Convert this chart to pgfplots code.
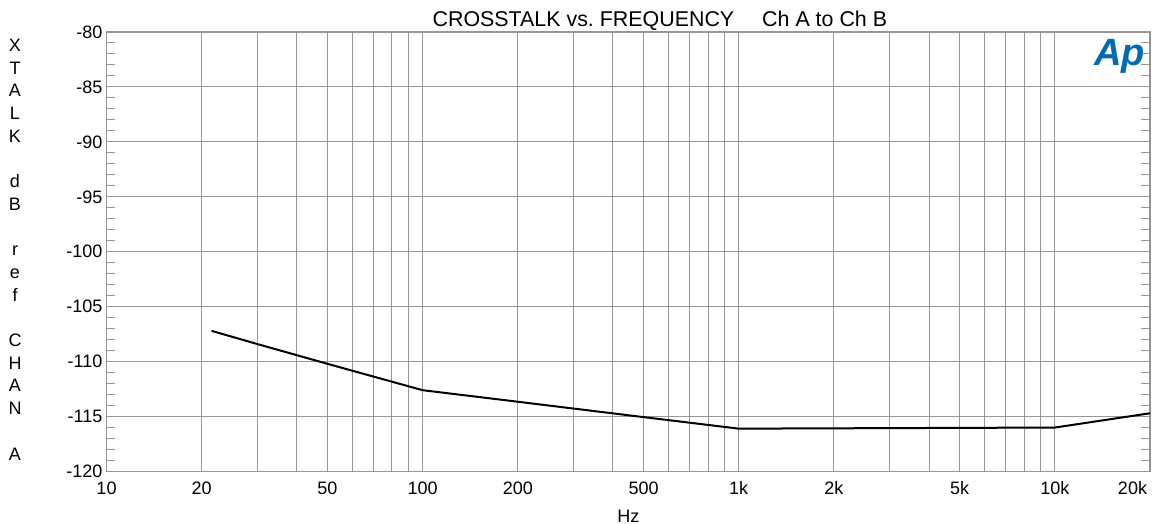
\documentclass[border=0pt]{standalone}
\usepackage{fontspec}
\setmainfont{Liberation Sans}
\usepackage{pgfplots}
\pgfplotsset{compat=1.18}
\definecolor{apblue}{RGB}{0,106,180}
\definecolor{gridgray}{RGB}{150,150,150}

\begin{document}
\begin{tikzpicture}
% 1 px of the reference = 0.5pt
\useasboundingbox (-53.25pt,-26.25pt) rectangle (527.25pt,235.75pt);
\begin{axis}[
    scale only axis,
    width=521.75pt, height=219.75pt,
    xmode=log, log basis x=10,
    xmin=10, xmax=20000,
    ymin=-120, ymax=-80,
    clip=false,
    font=\fontsize{9}{10.8}\selectfont,
    /pgf/number format/assume math mode=true,
    xtick={10,20,50,100,200,500,1000,2000,5000,10000,20000},
    xticklabels={10,20,50,100,200,500,1k,2k,5k,10k,\makebox[0pt][r]{20k\hspace{1.5pt}}},
    minor xtick={30,40,60,70,80,90,300,400,600,700,800,900,3000,4000,6000,7000,8000,9000},
    ytick={-120,-115,-110,-105,-100,-95,-90,-85,-80},
    yticklabels={-120,-115,-110,-105,-100,-95,-90,-85,-80},
    minor ytick={-119,-118,...,-81},
    xmajorgrids, xminorgrids, ymajorgrids,
    grid style={gridgray, line width=0.5pt},
    minor grid style={gridgray, line width=0.5pt},
    axis line style={gridgray, line width=0.6pt},
    xtick style={draw=none},
    ytick style={gridgray, line width=0.5pt},
    major tick length=0pt,
    minor tick length=4.3pt,
    tick align=inside,
    xticklabel style={yshift=-1.5pt},
    yticklabel style={xshift=1.5pt},
    title={CROSSTALK vs.\ FREQUENCY\hspace{14pt}Ch A to Ch B},
    title style={at={(rel axis cs:0.5303,1)}, anchor=base, yshift=-3.35pt,
        inner sep=0pt, font=\fontsize{10.7}{12}\selectfont},
    xlabel={Hz},
    xlabel style={at={(rel axis cs:0.5,0)}, anchor=center, yshift=-22.25pt, inner sep=0pt},
    ylabel={X\\T\\A\\L\\K\\[11.35pt]d\\B\\[11.35pt]r\\e\\f\\[11.35pt]C\\H\\A\\N\\[11.35pt]A},
    ylabel style={at={(rel axis cs:0,0.505)}, rotate=-90, anchor=center,
        xshift=-45.75pt, align=center, inner sep=0pt,
        font=\fontsize{9}{11.35}\selectfont},
]
\addplot[black, line width=1pt] coordinates {
    (21.5,-107.2)
    (30,-108.4)
    (50,-110.2)
    (100,-112.6)
    (200,-113.65)
    (500,-115.05)
    (1000,-116.1)
    (2000,-116.07)
    (5000,-116.03)
    (10000,-116.0)
    (20000,-114.7)
};
\node[apblue, font=\fontsize{19}{19}\bfseries\itshape, inner sep=0pt]
    at (rel axis cs:0.971,0.945) {Ap};
\end{axis}
\end{tikzpicture}
\end{document}
